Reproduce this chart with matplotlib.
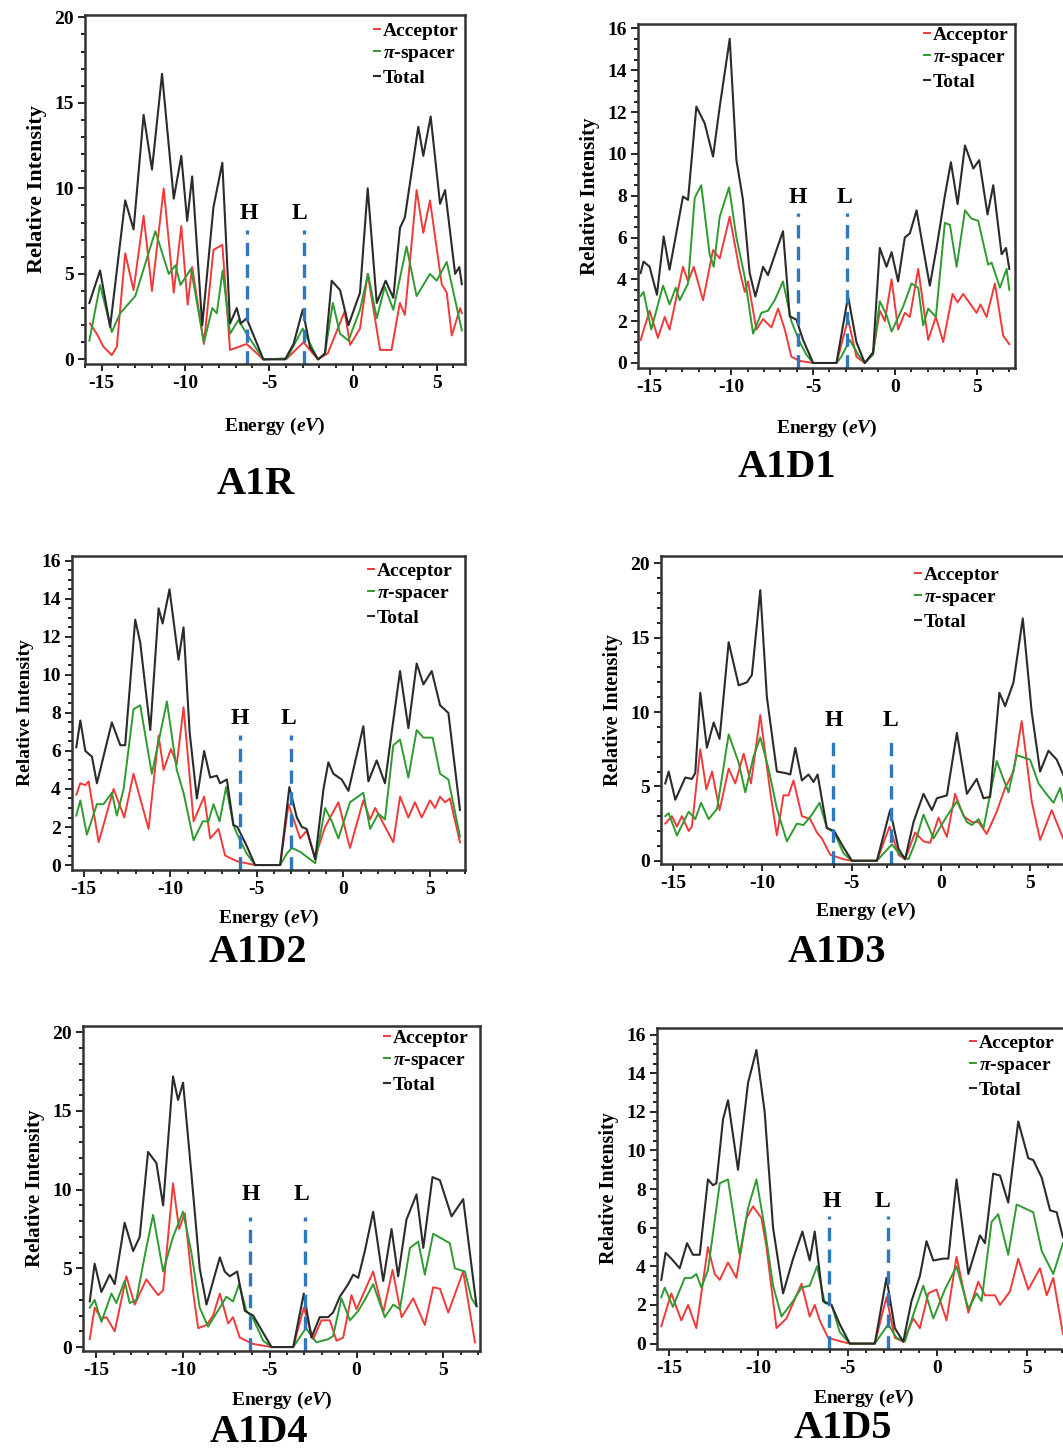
import matplotlib
matplotlib.use("Agg")
import matplotlib.pyplot as plt
from matplotlib.ticker import MultipleLocator

plt.rcParams["font.family"] = ["Liberation Serif", "DejaVu Serif"]
plt.rcParams["font.weight"] = "bold"
plt.rcParams["mathtext.fontset"] = "custom"
plt.rcParams["mathtext.rm"] = "Liberation Serif:bold"
plt.rcParams["mathtext.it"] = "Liberation Serif:italic:bold"
plt.rcParams["axes.unicode_minus"] = False

# === A1R ===
a1r_tot_e = [-15.74, -15.1, -14.5, -13.6, -13.1, -12.5, -12.0, -11.4, -10.7, -10.25, -9.9, -9.6, -9.0, -8.33, -7.8,
             -7.34, -6.94, -6.7, -6.35, -5.35, -4.05, -3.55, -3.0, -2.56, -2.06, -1.67, -1.27, -0.77, -0.27, 0.42,
             0.88, 1.42, 1.95, 2.41, 2.81, 3.1, 3.9, 4.2, 4.64, 5.2, 5.5, 6.1, 6.35, 6.5]
a1r_tot = [3.3, 5.2, 1.9, 9.3, 7.6, 14.3, 11.1, 16.7, 9.4, 11.9, 8.1, 10.7, 2.0, 8.9, 11.5,
           2.1, 3.0, 2.1, 2.4, 0, 0, 0.9, 2.9, 0.7, 0, 0.35, 4.6, 4.05, 2.0, 3.9,
           10.0, 3.3, 4.6, 3.6, 7.7, 8.3, 13.6, 11.9, 14.2, 9.1, 9.9, 5.0, 5.4, 4.4]
a1r_acc_e = [-15.7, -15.3, -14.9, -14.4, -14.1, -13.6, -13.1, -12.5, -12.0, -11.3, -10.7, -10.25, -9.87, -9.6, -8.9,
             -8.33, -7.8, -7.34, -6.35, -5.35, -3.95, -2.95, -2.1, -1.5, -0.5, -0.17, 0.42, 0.88, 1.62, 2.3,
             2.8, 3.1, 3.8, 4.2, 4.6, 5.3, 5.6, 5.9, 6.4, 6.5]
a1r_acc = [2.1, 1.5, 0.74, 0.25, 0.74, 6.2, 4.05, 8.4, 4.0, 10.0, 3.9, 7.8, 3.2, 5.4, 0.9,
           6.4, 6.7, 0.55, 0.9, 0, 0.05, 1.0, 0, 0.35, 2.8, 0.85, 1.8, 5.0, 0.55, 0.55,
           3.3, 2.6, 9.9, 7.4, 9.3, 4.4, 3.9, 1.4, 3.0, 2.7]
a1r_spc_e = [-15.74, -15.1, -14.4, -13.9, -13.0, -11.8, -11.0, -10.6, -10.3, -9.67, -8.9, -8.4, -8.13, -7.78, -7.34,
             -6.84, -6.35, -5.35, -3.95, -3.0, -2.1, -1.67, -1.2, -0.77, -0.27, 0.42, 0.9, 1.42, 1.9, 2.41,
             3.2, 3.8, 4.6, 5.0, 5.6, 6.5]
a1r_spc = [1.1, 4.35, 1.6, 2.7, 3.7, 7.5, 5.0, 5.5, 4.35, 5.3, 1.0, 3.0, 2.7, 5.2, 1.5,
           2.3, 1.5, 0, 0.05, 1.8, 0, 0.35, 3.3, 1.5, 1.1, 2.9, 5.0, 2.4, 4.25, 2.9,
           6.6, 3.7, 5.0, 4.6, 5.7, 1.7]

# === A1D1 ===
a1d1_tot_e = [-15.55, -15.37, -15.0, -14.55, -14.14, -13.78, -13.37, -12.96, -12.65, -12.14, -11.63, -11.12, -10.71,
              -10.1, -9.69, -9.29, -8.88, -8.53, -8.06, -7.76, -7.24, -6.84, -6.43, -6.02, -5.61, -5.0, -3.57,
              -2.86, -2.35, -1.84, -1.33, -0.92, -0.51, -0.2, 0.2, 0.61, 0.92, 1.33, 1.73, 2.14, 2.55, 3.06,
              3.43, 3.84, 4.29, 4.8, 5.16, 5.67, 6.02, 6.53, 6.8, 7.0]
a1d1_tot = [4.3, 4.85, 4.6, 3.26, 6.05, 4.46, 6.2, 7.96, 7.8, 12.26, 11.46, 9.87, 12.26,
            15.5, 9.7, 7.8, 4.3, 3.18, 4.6, 4.2, 5.4, 6.3, 2.23, 2.07, 1.1, 0, 0,
            3.18, 1.0, 0, 0.5, 5.5, 4.6, 5.3, 3.9, 6.0, 6.2, 7.3, 5.5, 3.7, 5.5, 8.0,
            9.6, 7.6, 10.4, 9.3, 9.7, 7.1, 8.5, 5.2, 5.5, 4.5]
a1d1_acc_e = [-15.55, -15.0, -14.49, -14.08, -13.78, -12.96, -12.65, -12.3, -11.73, -11.12, -10.71, -10.1, -9.49,
              -9.18, -8.98, -8.47, -8.06, -7.55, -7.14, -6.73, -6.33, -5.82, -5.0, -3.57, -2.86, -2.35, -1.84,
              -1.33, -0.92, -0.61, -0.2, 0.2, 0.61, 0.92, 1.43, 2.04, 2.51, 2.96, 3.53, 3.84, 4.18, 5.0,
              5.24, 5.61, 6.12, 6.63, 7.0]
a1d1_acc = [1.1, 2.5, 1.2, 2.2, 1.6, 4.6, 3.9, 4.6, 3.0, 5.4, 5.0, 7.0, 4.4,
            3.4, 3.9, 1.6, 2.1, 1.7, 2.6, 1.6, 0.3, 0.1, 0, 0, 2.1, 0.3, 0,
            0.5, 2.5, 2.0, 4.0, 1.6, 2.4, 2.2, 4.5, 1.1, 2.2, 1.0, 3.3, 2.9, 3.3, 2.4,
            2.8, 2.2, 3.8, 1.3, 0.9]
a1d1_spc_e = [-15.55, -15.37, -14.9, -14.18, -13.78, -13.4, -13.16, -12.65, -12.24, -11.84, -11.33, -11.08, -10.71,
              -10.14, -9.69, -9.18, -8.67, -8.16, -7.76, -7.35, -6.84, -6.33, -5.82, -5.41, -5.0, -3.57, -3.27,
              -2.76, -2.24, -1.84, -1.33, -0.92, -0.51, -0.2, 0.51, 1.02, 1.43, 1.73, 2.04, 2.51, 3.06, 3.37,
              3.78, 4.29, 4.69, 5.1, 5.71, 5.92, 6.43, 6.84, 7.0]
a1d1_spc = [3.2, 3.4, 1.6, 3.7, 2.8, 3.6, 3.0, 3.8, 7.9, 8.5, 5.2, 4.6, 7.0,
            8.4, 6.0, 4.1, 1.4, 2.4, 2.5, 3.0, 3.9, 2.0, 1.0, 0.4, 0, 0, 0.3,
            1.1, 0.4, 0, 0.4, 2.95, 2.3, 1.5, 2.7, 3.8, 3.6, 1.8, 2.6, 2.2, 6.7, 6.6,
            4.6, 7.3, 6.9, 6.8, 4.7, 4.8, 3.6, 4.5, 3.5]

# === A1D2 ===
a1d2_tot_e = [-15.42, -15.19, -14.9, -14.52, -14.23, -13.37, -12.88, -12.6, -12.02, -11.73, -11.15, -10.67, -10.44,
              -10.04, -9.52, -9.23, -8.88, -8.46, -8.04, -7.69, -7.31, -7.12, -6.73, -6.35, -6.12, -5.58, -5.1,
              -3.65, -3.12, -2.69, -2.4, -2.12, -1.63, -1.15, -0.87, -0.58, -0.1, 0.29, 1.15, 1.44, 1.92, 2.4,
              2.79, 3.27, 3.75, 4.23, 4.62, 5.1, 5.58, 6.06, 6.73]
a1d2_tot = [6.2, 7.6, 6.0, 5.7, 4.3, 7.5, 6.3, 6.3, 12.9, 11.7, 7.1, 13.5, 12.7,
            14.5, 10.8, 12.5, 7.0, 3.5, 6.0, 4.6, 4.7, 4.3, 4.5, 2.1, 2.0, 1.0, 0,
            0, 4.1, 2.5, 2.0, 1.9, 0.3, 4.0, 5.4, 4.8, 4.5, 3.9, 7.3, 4.4, 5.5, 4.3,
            7.0, 10.2, 7.2, 10.6, 9.5, 10.2, 8.4, 8.0, 2.9]
a1d2_acc_e = [-15.42, -15.19, -14.9, -14.71, -14.13, -13.27, -12.65, -12.12, -11.25, -10.67, -10.38, -9.96, -9.62,
              -9.23, -8.65, -8.04, -7.69, -7.21, -6.83, -6.15, -5.1, -3.65, -3.17, -2.5, -2.12, -1.63, -1.06,
              -0.29, 0.38, 1.15, 1.54, 1.83, 2.88, 3.27, 3.75, 4.13, 4.52, 5.0, 5.29, 5.58, 5.87, 6.15, 6.73]
a1d2_acc = [3.7, 4.3, 4.2, 4.4, 1.2, 4.0, 2.5, 4.8, 1.9, 6.8, 5.0, 6.1, 5.3,
            8.3, 2.3, 3.6, 1.4, 1.9, 0.5, 0.2, 0, 0, 3.2, 1.4, 1.8, 0.4, 2.0,
            3.3, 0.9, 3.4, 2.4, 3.0, 1.2, 3.6, 2.5, 3.3, 2.5, 3.4, 3.0, 3.6, 3.3, 3.5, 1.2]
a1d2_spc_e = [-15.42, -15.19, -14.81, -14.23, -13.85, -13.37, -13.08, -12.69, -12.12, -11.73, -11.06, -10.67, -10.19,
              -9.62, -9.23, -8.65, -8.12, -7.79, -7.5, -7.15, -6.77, -6.35, -6.12, -5.58, -5.1, -3.65, -3.27,
              -2.98, -2.5, -1.63, -1.06, -0.67, -0.29, 0.38, 1.15, 1.54, 2.02, 2.4, 2.88, 3.27, 3.75, 4.23,
              4.62, 5.15, 5.58, 6.06, 6.73]
a1d2_spc = [2.6, 3.4, 1.6, 3.2, 3.2, 3.8, 2.6, 4.0, 8.2, 8.4, 4.8, 6.5, 8.6,
            5.0, 3.8, 1.3, 2.3, 2.3, 3.2, 2.3, 4.1, 2.1, 1.6, 0.6, 0, 0, 0.6,
            0.9, 0.7, 0.1, 3.0, 2.3, 1.4, 3.3, 3.8, 1.9, 2.7, 2.4, 6.3, 6.6, 4.6, 7.1,
            6.7, 6.7, 4.8, 4.5, 1.5]

# === A1D3 ===
a1d3_tot_e = [-15.43, -15.24, -14.87, -14.31, -13.94, -13.75, -13.47, -13.1, -12.72, -12.39, -11.88, -11.32, -10.86,
              -10.58, -10.11, -9.74, -9.18, -8.71, -8.43, -8.15, -7.78, -7.41, -7.13, -6.9, -6.38, -5.97, -5.45,
              -4.98, -3.58, -2.84, -2.37, -2.0, -1.53, -0.97, -0.5, -0.22, 0.34, 0.9, 1.46, 2.01, 2.39, 2.76,
              3.28, 3.6, 4.07, 4.59, 5.09, 5.56, 6.03, 6.49, 6.85]
a1d3_tot = [5.2, 6.0, 4.1, 5.6, 5.5, 5.9, 11.3, 7.6, 9.3, 8.2, 14.7, 11.8, 12.0,
            12.5, 18.2, 11.0, 6.0, 5.9, 5.8, 7.6, 5.4, 5.8, 5.3, 5.8, 2.2, 2.0, 0.9,
            0, 0, 3.4, 0.8, 0.1, 2.6, 4.5, 3.4, 4.2, 4.4, 8.6, 4.5, 5.5, 4.2, 4.3,
            11.3, 10.4, 12.0, 16.3, 10.0, 6.0, 7.4, 6.8, 5.8]
a1d3_acc_e = [-15.43, -15.06, -14.78, -14.5, -14.12, -13.94, -13.47, -13.13, -12.81, -12.39, -11.88, -11.51, -11.04,
              -10.63, -10.11, -9.55, -9.18, -8.81, -8.53, -8.25, -7.78, -7.31, -6.94, -6.66, -6.19, -5.45, -4.98,
              -3.58, -2.87, -2.37, -2.0, -1.44, -0.97, -0.6, -0.13, 0.34, 0.8, 1.27, 1.74, 2.11, 2.57, 3.13,
              3.6, 4.07, 4.53, 5.09, 5.56, 6.21, 6.85]
a1d3_acc = [2.5, 3.0, 2.3, 3.0, 2.0, 2.3, 7.5, 4.8, 6.0, 3.4, 6.2, 5.2, 7.2,
            5.2, 9.8, 4.6, 1.7, 4.4, 4.4, 5.4, 3.0, 2.8, 1.9, 1.5, 0.4, 0.1, 0,
            0, 2.3, 0.4, 0.1, 1.9, 1.3, 1.2, 2.9, 1.6, 4.5, 3.0, 2.6, 2.6, 1.8, 3.3,
            4.9, 6.0, 9.4, 4.0, 1.4, 3.4, 1.5]
a1d3_spc_e = [-15.43, -15.24, -14.78, -14.12, -13.75, -13.43, -13.0, -12.53, -11.88, -11.32, -10.95, -10.49, -10.11,
              -9.65, -9.18, -8.62, -8.06, -7.69, -7.22, -6.79, -6.38, -5.97, -5.45, -4.98, -3.58, -2.74, -2.28,
              -1.81, -1.44, -0.97, -0.41, 0.34, 0.9, 1.46, 1.74, 2.11, 2.39, 3.13, 3.79, 4.25, 5.0, 5.47,
              5.84, 6.31, 6.68, 6.85]
a1d3_spc = [3.0, 3.2, 1.7, 3.3, 2.8, 3.9, 2.8, 3.5, 8.5, 6.6, 4.6, 7.0, 8.3,
            6.2, 3.5, 1.3, 2.5, 2.4, 3.1, 3.9, 2.2, 1.9, 0.5, 0, 0, 1.1, 0.4,
            0.1, 1.2, 3.1, 1.5, 3.0, 4.0, 2.6, 2.4, 2.8, 2.2, 6.7, 4.6, 7.1, 6.8, 5.2,
            4.6, 3.9, 4.9, 4.0]

# === A1D4 ===
a1d4_tot_e = [-15.38, -15.1, -14.71, -14.23, -13.94, -13.37, -12.88, -12.5, -12.02, -11.54, -11.15, -10.58, -10.29,
              -10.0, -9.52, -9.04, -8.65, -7.88, -7.6, -7.31, -6.88, -6.44, -5.96, -5.38, -4.9, -3.65, -3.04,
              -2.6, -2.12, -1.63, -1.35, -0.96, -0.48, -0.19, 0.1, 0.48, 0.96, 1.54, 2.02, 2.4, 2.88, 3.46,
              3.85, 4.38, 4.81, 5.48, 6.15, 6.92]
a1d4_tot = [2.9, 5.3, 3.5, 4.6, 4.0, 7.9, 6.1, 7.0, 12.4, 11.7, 9.0, 17.2, 15.7,
            16.8, 11.0, 5.0, 2.7, 5.7, 4.8, 4.5, 4.8, 2.3, 2.0, 0.9, 0, 0, 3.4,
            0.6, 1.9, 1.9, 2.2, 3.2, 4.0, 4.6, 4.4, 6.1, 8.6, 4.2, 7.5, 4.5, 8.1, 9.7,
            6.3, 10.8, 10.6, 8.3, 9.4, 2.6]
a1d4_acc_e = [-15.38, -15.1, -14.71, -14.42, -13.94, -13.27, -12.79, -12.12, -11.44, -11.15, -10.58, -10.23, -9.9,
              -9.42, -9.13, -8.65, -8.27, -7.88, -7.4, -7.12, -6.73, -5.96, -4.9, -3.65, -3.04, -2.5, -2.02,
              -1.54, -1.15, -0.77, -0.29, 0.0, 0.96, 1.54, 2.08, 2.6, 3.27, 3.94, 4.42, 4.81, 5.29, 6.15, 6.83]
a1d4_acc = [0.5, 2.5, 1.8, 1.9, 1.0, 4.5, 2.7, 4.3, 3.3, 3.6, 10.4, 7.5, 8.5,
            3.5, 1.2, 1.4, 2.0, 3.4, 1.5, 1.9, 0.6, 0.2, 0, 0, 2.5, 0.5, 1.7,
            1.7, 0.4, 0.6, 3.3, 2.4, 4.8, 2.2, 4.9, 1.9, 3.1, 1.4, 3.8, 3.7, 2.2, 4.8, 0.3]
a1d4_spc_e = [-15.38, -15.1, -14.71, -14.13, -13.85, -13.37, -13.08, -12.69, -12.21, -11.73, -11.15, -10.58, -10.0,
              -9.52, -9.04, -8.56, -7.88, -7.5, -7.12, -6.77, -6.35, -5.96, -5.38, -4.9, -3.65, -2.92, -2.31,
              -1.63, -1.35, -0.87, -0.38, 0.1, 0.48, 0.96, 1.63, 2.12, 2.5, 3.08, 3.56, 3.94, 4.42, 5.38,
              5.67, 6.25, 6.63, 6.92]
a1d4_spc = [2.5, 3.0, 1.6, 3.4, 2.8, 4.2, 2.8, 3.0, 5.8, 8.4, 4.8, 7.0, 8.6,
            6.0, 2.5, 1.3, 2.5, 3.2, 2.9, 4.0, 2.3, 1.8, 0.4, 0, 0, 1.2, 0.3,
            0.5, 0.7, 3.1, 1.7, 2.3, 3.0, 4.0, 1.9, 2.7, 2.4, 6.3, 6.7, 4.6, 7.2, 6.6,
            5.0, 4.8, 3.1, 2.6]

# === A1D5 ===
a1d5_tot_e = [-15.43, -15.19, -14.87, -14.4, -13.99, -13.66, -13.28, -12.82, -12.54, -12.35, -11.98, -11.7, -11.14,
              -10.58, -10.11, -9.65, -9.18, -8.62, -8.06, -7.54, -7.13, -6.85, -6.38, -5.91, -5.45, -4.89, -3.49,
              -2.84, -2.37, -1.9, -1.44, -0.97, -0.6, -0.22, 0.34, 0.62, 1.08, 1.74, 2.39, 2.67, 3.13, 3.51,
              3.97, 4.53, 5.09, 5.37, 5.84, 6.31, 6.68, 7.03]
a1d5_tot = [3.3, 4.7, 4.4, 3.9, 5.2, 4.6, 4.6, 8.5, 8.2, 8.3, 11.6, 12.6, 9.0,
            13.5, 15.2, 12.0, 6.0, 2.6, 4.4, 5.8, 4.3, 5.8, 2.2, 2.0, 1.0, 0, 0,
            3.4, 0.8, 0.1, 2.2, 3.5, 5.3, 4.3, 4.4, 4.4, 8.5, 3.6, 5.6, 5.2, 8.8, 8.7,
            7.3, 11.5, 9.6, 9.5, 8.6, 6.9, 6.8, 5.5]
a1d5_acc_e = [-15.43, -14.87, -14.31, -13.93, -13.47, -12.82, -12.44, -12.16, -11.7, -11.23, -10.67, -10.3, -9.83,
              -9.55, -8.99, -8.43, -7.59, -7.13, -6.85, -6.57, -6.1, -5.35, -4.89, -3.49, -2.84, -2.37, -1.9,
              -1.34, -0.97, -0.5, -0.04, 0.52, 1.08, 1.74, 2.29, 2.67, 3.23, 3.51, 4.07, 4.53, 5.09, 5.75,
              6.12, 6.49, 7.03]
a1d5_acc = [0.9, 2.6, 1.2, 2.0, 0.8, 5.0, 3.6, 3.3, 4.2, 3.4, 6.5, 7.1, 6.5,
            5.0, 0.8, 1.3, 3.1, 1.4, 2.0, 1.2, 0.3, 0.1, 0, 0, 2.4, 0.3, 0.1,
            1.3, 0.8, 2.6, 2.8, 1.2, 4.5, 1.6, 3.2, 2.5, 2.5, 2.0, 2.7, 4.4, 2.8, 3.9,
            2.5, 3.4, 0.5]
a1d5_spc_e = [-15.43, -15.24, -14.78, -14.12, -13.75, -13.47, -13.19, -12.82, -12.16, -11.7, -11.05, -10.58, -10.11,
              -9.65, -9.18, -8.71, -8.06, -7.59, -7.13, -6.72, -6.29, -5.91, -5.45, -4.89, -3.49, -2.74, -2.28,
              -1.81, -1.34, -0.78, -0.22, 0.43, 1.08, 1.74, 2.2, 2.48, 3.04, 3.41, 3.97, 4.44, 5.37, 5.84,
              6.49, 7.03]
a1d5_spc = [2.4, 2.9, 1.9, 3.4, 3.4, 3.6, 2.9, 3.8, 8.3, 8.5, 4.6, 7.0, 8.5,
            6.0, 3.0, 1.4, 2.2, 2.9, 3.0, 4.0, 2.1, 2.0, 0.6, 0, 0, 1.0, 0.3,
            0.1, 1.5, 3.0, 1.3, 2.8, 4.0, 1.8, 2.6, 2.2, 6.3, 6.7, 4.6, 7.2, 6.8, 4.8,
            3.6, 5.2]

names = ["A1R", "A1D1", "A1D2", "A1D3", "A1D4", "A1D5"]
series_labels = ["Acceptor", r"$\pi$-spacer", "Total"]
homo = [-6.34, -5.92, -5.96, -6.04, -6.12, -6.06]
lumo = [-2.92, -2.92, -3.02, -2.80, -2.98, -2.74]

W, H = 1063, 1450
# panel layout in pixels: left, top, right, bottom
boxes = [(85, 15, 465, 364), (638, 24, 1015, 368), (72, 556, 465, 870),
         (661, 556, 1071, 864), (83, 1026, 480, 1351), (657, 1028, 1071, 1349)]
xlims = [(-16.0, 6.69), (-15.71, 7.35), (-15.67, 7.02), (-15.67, 7.29), (-15.77, 7.12), (-15.67, 7.48)]
ylims = [(-0.27, 20.14), (-0.24, 16.21), (-0.26, 16.25), (-0.22, 20.5), (-0.25, 20.4), (-0.28, 16.34)]
ysteps = [5, 2, 2, 5, 5, 2]
ylabel_size = [16, 15, 14, 14.5, 15, 14.5]
xlabel_pad = [17, 16, 7, 6, 8, 8]
dash_top = [7.56, 7.17, 6.83, 8.45, 8.25, 6.6]
hl_label = [(-6.24, -3.22, 8.54), (-5.92, -3.06, 7.93), (-5.96, -3.17, 7.71),
            (-5.97, -2.80, 9.46), (-6.12, -3.17, 9.67), (-5.88, -3.06, 7.37)]
legend_xy = [(374, 22), (924, 26), (368, 562), (915, 566), (384, 1029), (970, 1034)]
title_xy = [(256, 485), (787, 468), (258, 953), (837, 952), (259, 1432), (843, 1428)]

data = [
    (a1r_acc_e, a1r_acc, a1r_spc_e, a1r_spc, a1r_tot_e, a1r_tot),
    (a1d1_acc_e, a1d1_acc, a1d1_spc_e, a1d1_spc, a1d1_tot_e, a1d1_tot),
    (a1d2_acc_e, a1d2_acc, a1d2_spc_e, a1d2_spc, a1d2_tot_e, a1d2_tot),
    (a1d3_acc_e, a1d3_acc, a1d3_spc_e, a1d3_spc, a1d3_tot_e, a1d3_tot),
    (a1d4_acc_e, a1d4_acc, a1d4_spc_e, a1d4_spc, a1d4_tot_e, a1d4_tot),
    (a1d5_acc_e, a1d5_acc, a1d5_spc_e, a1d5_spc, a1d5_tot_e, a1d5_tot),
]

RED, GREEN, BLACK, BLUE = "#f03a3a", "#2f9a2f", "#2b2b2b", "#2f78c0"

fig = plt.figure(figsize=(W / 100, H / 100), dpi=100)

for i, name in enumerate(names):
    l, t, r, b = boxes[i]
    ax = fig.add_axes([l / W, 1 - b / H, (r - l) / W, (b - t) / H])
    ae, av, se, sv, te, tv = data[i]
    h_acc, = ax.plot(ae, av, color=RED, lw=1.4, solid_joinstyle="round")
    h_spc, = ax.plot(se, sv, color=GREEN, lw=1.4, solid_joinstyle="round")
    h_tot, = ax.plot(te, tv, color=BLACK, lw=1.5, solid_joinstyle="round")

    y0 = ylims[i][0]
    ax.plot([homo[i], homo[i]], [y0, dash_top[i]], color=BLUE, lw=2.4, ls=(0, (4, 2.5)))
    ax.plot([lumo[i], lumo[i]], [y0, dash_top[i]], color=BLUE, lw=2.4, ls=(0, (4, 2.5)))
    hx, lx, ly = hl_label[i]
    ax.text(hx, ly, "H", ha="center", va="center", fontsize=17, fontweight="bold")
    ax.text(lx, ly, "L", ha="center", va="center", fontsize=17, fontweight="bold")

    ax.set_xlim(*xlims[i])
    ax.set_ylim(*ylims[i])
    ax.xaxis.set_major_locator(MultipleLocator(5))
    ax.xaxis.set_minor_locator(MultipleLocator(1))
    ax.yaxis.set_major_locator(MultipleLocator(ysteps[i]))
    ax.yaxis.set_minor_locator(MultipleLocator(ysteps[i] / (5 if ysteps[i] == 5 else 4)))
    ax.tick_params(which="both", direction="out", top=False, right=False, labelsize=14, width=1.2, pad=3)
    ax.tick_params(which="major", length=5)
    ax.tick_params(which="minor", length=3)
    for lab in ax.get_xticklabels() + ax.get_yticklabels():
        lab.set_fontweight("bold")
    for sp in ax.spines.values():
        sp.set_linewidth(1.8)
        sp.set_color("#333333")

    ax.set_ylabel("Relative Intensity", fontsize=ylabel_size[i], fontweight="bold", labelpad=5)
    ax.set_xlabel("Energy ($eV$)", fontsize=14, fontweight="bold", labelpad=xlabel_pad[i])

    lx0, ly0 = legend_xy[i]
    ax.legend([h_acc, h_spc, h_tot], series_labels, loc="upper left",
              bbox_to_anchor=(lx0 / W, 1 - ly0 / H), bbox_transform=fig.transFigure,
              frameon=False, handlelength=0.3, handletextpad=0.15, labelspacing=0.25,
              borderpad=0, borderaxespad=0, prop={"size": 14, "weight": "bold"})

    tx, ty = title_xy[i]
    fig.text(tx / W, 1 - ty / H, name, ha="center", va="center", fontsize=29, fontweight="bold")

fig.savefig("out.png", dpi=100)
